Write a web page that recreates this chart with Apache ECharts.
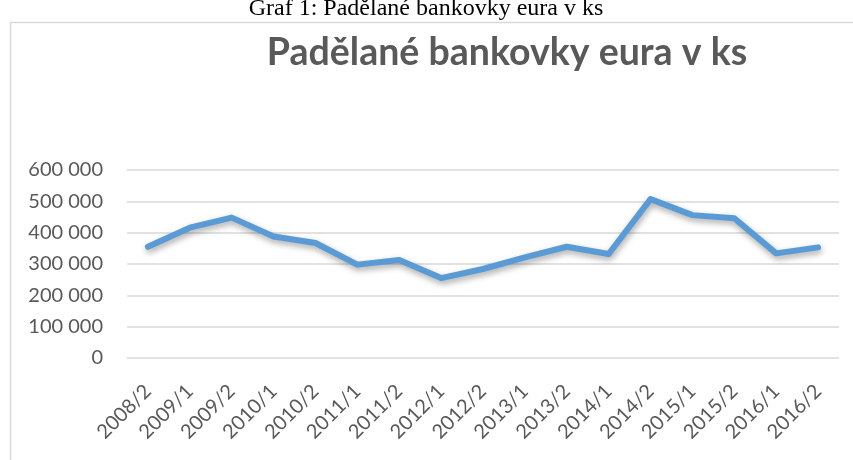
<!DOCTYPE html>
<html>
<head>
<meta charset="utf-8">
<script src="https://cdn.jsdelivr.net/npm/echarts@6/dist/echarts.min.js"></script>
<style>
html,body{margin:0;padding:0;background:#fff;}
#chart{width:853px;height:460px;}
</style>
</head>
<body>
<div id="chart"></div>
<script>
const categories = ['2008/2','2009/1','2009/2','2010/1','2010/2','2011/1','2011/2','2012/1','2012/2','2013/1','2013/2','2014/1','2014/2','2015/1','2015/2','2016/1','2016/2'];
const values = [355000, 416000, 448000, 388000, 367000, 298000, 313000, 255000, 284000, 321000, 355000, 332000, 507000, 456000, 446000, 334000, 353000];
const yTicks = {min: 0, max: 600000, interval: 100000};
const pageCaption = 'Graf 1: Padělané bankovky eura v ks';
const chartTitle = 'Padělané bankovky eura v ks';

const chart = echarts.init(document.getElementById('chart'), null, {renderer: 'canvas'});
const fmt = v => v === 0 ? '0' : String(v).replace(/\B(?=(\d{3})+(?!\d))/g, ' ');
chart.setOption({
  backgroundColor: '#fff',
  animation: false,
  graphic: [
    {type: 'rect', left: 8, top: 20, shape: {x: 0, y: 0, width: 900, height: 500},
     style: {fill: 'none', stroke: '#d9d9d9', lineWidth: 1.5}, silent: true},
    {type: 'text', x: 426, y: 21, style: {text: pageCaption, font: '24px "Liberation Serif", "Times New Roman", serif',
     fill: '#000', align: 'center', verticalAlign: 'bottom'}}
  ],
  title: {
    text: chartTitle, left: 502, top: 48, textAlign: 'center', textVerticalAlign: 'middle',
    textStyle: {fontFamily: 'Lato', fontWeight: 'bold', fontSize: 37.5, color: '#595959'}
  },
  grid: {left: 127, right: 14, top: 170, bottom: 102, containLabel: false},
  xAxis: {
    type: 'category', data: categories, boundaryGap: true,
    axisLine: {show: false}, axisTick: {show: false},
    axisLabel: {rotate: 45, margin: 30, color: '#595959', fontFamily: 'Lato', fontSize: 20, interval: 0}
  },
  yAxis: {
    type: 'value', min: yTicks.min, max: yTicks.max, interval: yTicks.interval,
    axisLine: {show: false}, axisTick: {show: false},
    axisLabel: {margin: 24, color: '#595959', fontFamily: 'Lato', fontSize: 20, formatter: fmt},
    splitLine: {lineStyle: {color: '#d9d9d9', width: 1.5}}
  },
  series: [{
    type: 'line', data: values, symbol: 'none', smooth: false,
    lineStyle: {color: '#5b9bd5', width: 6, cap: 'round', join: 'round',
      shadowColor: 'rgba(0,0,0,0.35)', shadowBlur: 6, shadowOffsetX: 1, shadowOffsetY: 3}
  }]
});
</script>
</body>
</html>
